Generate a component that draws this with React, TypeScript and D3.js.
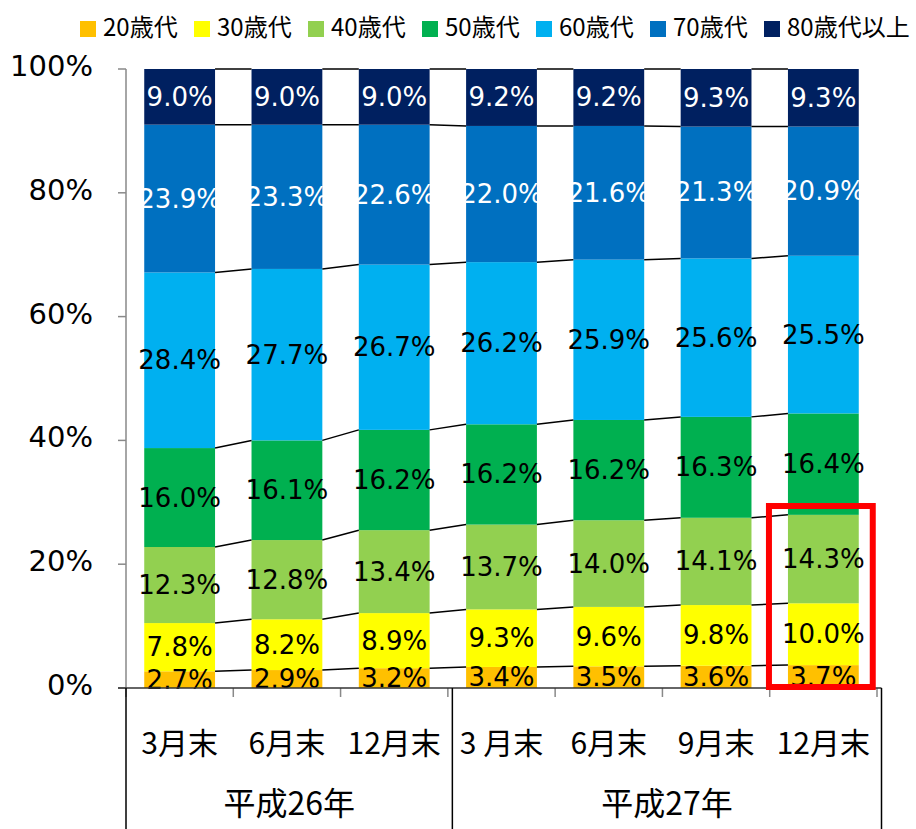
import React from 'react';
import * as d3 from 'd3';

const categories = ['3月末', '6月末', '12月末', '3 月末', '6月末', '9月末', '12月末'];
const groups = [
  { label: '平成26年', from: 0, to: 3 },
  { label: '平成27年', from: 3, to: 7 },
];
const seriesNames = ['20歳代', '30歳代', '40歳代', '50歳代', '60歳代', '70歳代', '80歳代以上'];
const seriesColors = ['#FFC000', '#FFFF00', '#92D050', '#00B050', '#00B0F0', '#0070C0', '#002060'];
const labelColors = ['#000', '#000', '#000', '#000', '#000', '#fff', '#fff'];

const age20 = [2.7, 2.9, 3.2, 3.4, 3.5, 3.6, 3.7];
const age30 = [7.8, 8.2, 8.9, 9.3, 9.6, 9.8, 10.0];
const age40 = [12.3, 12.8, 13.4, 13.7, 14.0, 14.1, 14.3];
const age50 = [16.0, 16.1, 16.2, 16.2, 16.2, 16.3, 16.4];
const age60 = [28.4, 27.7, 26.7, 26.2, 25.9, 25.6, 25.5];
const age70 = [23.9, 23.3, 22.6, 22.0, 21.6, 21.3, 20.9];
const age80 = [9.0, 9.0, 9.0, 9.2, 9.2, 9.3, 9.3];
const seriesValues = [age20, age30, age40, age50, age60, age70, age80];

const yTicks = [0, 0.2, 0.4, 0.6, 0.8, 1];

// highlighted column (red frame) and its top in share units
const highlightIndex = 6;
const highlightTop = 0.294;

const width = 916;
const height = 829;
const left = 126;
const right = 877;
const top = 69;
const bottom = 688;

export default function App() {
  const table = categories.map((c, i) => {
    const row: any = { key: i };
    seriesNames.forEach((s, k) => { row[s] = seriesValues[k][i]; });
    return row;
  });
  const stacked = d3.stack().keys(seriesNames).offset(d3.stackOffsetExpand)(table);

  const x = d3.scaleBand<number>()
    .domain(categories.map((_, i) => i))
    .range([left, right])
    .paddingInner(0.34)
    .paddingOuter(0.17);
  const y = d3.scaleLinear().domain([0, 1]).range([bottom, top]);
  const bw = x.bandwidth();
  const step = x.step();
  const edge = (i: number) => left + i * step;
  const groupEdge = (i: number) => (i === 0 ? left : edge(i) + 4.5);

  const num = 'DejaVu Sans, Verdana, sans-serif';
  const jp = '"Noto Sans CJK JP", sans-serif';

  return (
    <svg width={width} height={height} style={{ position: 'absolute', left: 0, top: 0, background: '#fff' }}>
      {/* legend */}
      {seriesNames.map((s, k) => (
        <g key={s} transform={`translate(${80 + k * 114},0)`}>
          <rect x={0} y={21} width={16} height={16} fill={seriesColors[k]} />
          <text x={23} y={25} fontSize={24} fontFamily={jp} dominantBaseline="central" fill="#000">{s}</text>
        </g>
      ))}

      {/* y axis */}
      <line x1={left} x2={left} y1={top} y2={bottom} stroke="#898989" strokeWidth={1.5} />
      {yTicks.map(t => (
        <g key={t}>
          <line x1={left - 8} x2={left} y1={y(t)} y2={y(t)} stroke="#898989" strokeWidth={1.5} />
          <text x={93} y={y(t) - 3} textAnchor="end" dominantBaseline="central" fontSize={29} fontFamily={num} fill="#000">
            {d3.format('.0%')(t)}
          </text>
        </g>
      ))}

      {/* bars */}
      {stacked.map((layer, k) => (
        <g key={layer.key} fill={seriesColors[k]}>
          {layer.map((d, i) => (
            <rect key={i} x={x(i)} y={y(d[1])} width={bw} height={y(d[0]) - y(d[1])} />
          ))}
        </g>
      ))}

      {/* series lines between bars */}
      {stacked.map((layer, k) => (
        <g key={'l' + layer.key} stroke="#000" strokeWidth={1.5}>
          {layer.slice(0, -1).map((d, i) => (
            <line key={i} x1={(x(i) as number) + bw} y1={y(d[1])} x2={x(i + 1)} y2={y(layer[i + 1][1])} />
          ))}
        </g>
      ))}

      {/* value labels */}
      {stacked.map((layer, k) => (
        <g key={'t' + layer.key}>
          {layer.map((d, i) => (
            <text key={i} x={(x(i) as number) + bw / 2} y={y((d[0] + d[1]) / 2)} textAnchor="middle"
              dominantBaseline="central" fontSize={26} fontFamily={num} fill={labelColors[k]}>
              {seriesValues[k][i].toFixed(1)}%
            </text>
          ))}
        </g>
      ))}

      {/* x axis */}
      {categories.map((_, i) => (
        <line key={'tk' + i} x1={edge(i)} x2={edge(i)} y1={bottom} y2={bottom + 9} stroke="#898989" strokeWidth={1.5} />
      ))}
      <line x1={edge(7)} x2={edge(7)} y1={bottom} y2={bottom + 9} stroke="#898989" strokeWidth={1.5} />
      <line x1={left - 8} x2={groupEdge(7)} y1={bottom} y2={bottom} stroke="#333" strokeWidth={1.5} />
      {[0, 3, 7].map(i => (
        <line key={'g' + i} x1={groupEdge(i)} x2={groupEdge(i)} y1={bottom} y2={height} stroke="#000" strokeWidth={1.5} />
      ))}
      {categories.map((c, i) => (
        <text key={'c' + i} x={(x(i) as number) + bw / 2} y={741} textAnchor="middle" dominantBaseline="central"
          fontSize={30} fontFamily={jp} fill="#000">{c}</text>
      ))}
      {groups.map(g => (
        <text key={g.label} x={(groupEdge(g.from) + groupEdge(g.to)) / 2} y={801} textAnchor="middle"
          dominantBaseline="central" fontSize={32} fontFamily={jp} fill="#000">{g.label}</text>
      ))}

      {/* highlight frame */}
      <rect x={(x(highlightIndex) as number) - 19} y={y(highlightTop)} width={bw + 33}
        height={y(0) - y(highlightTop) - 1} fill="none" stroke="#FF0000" strokeWidth={6} />
    </svg>
  );
}
